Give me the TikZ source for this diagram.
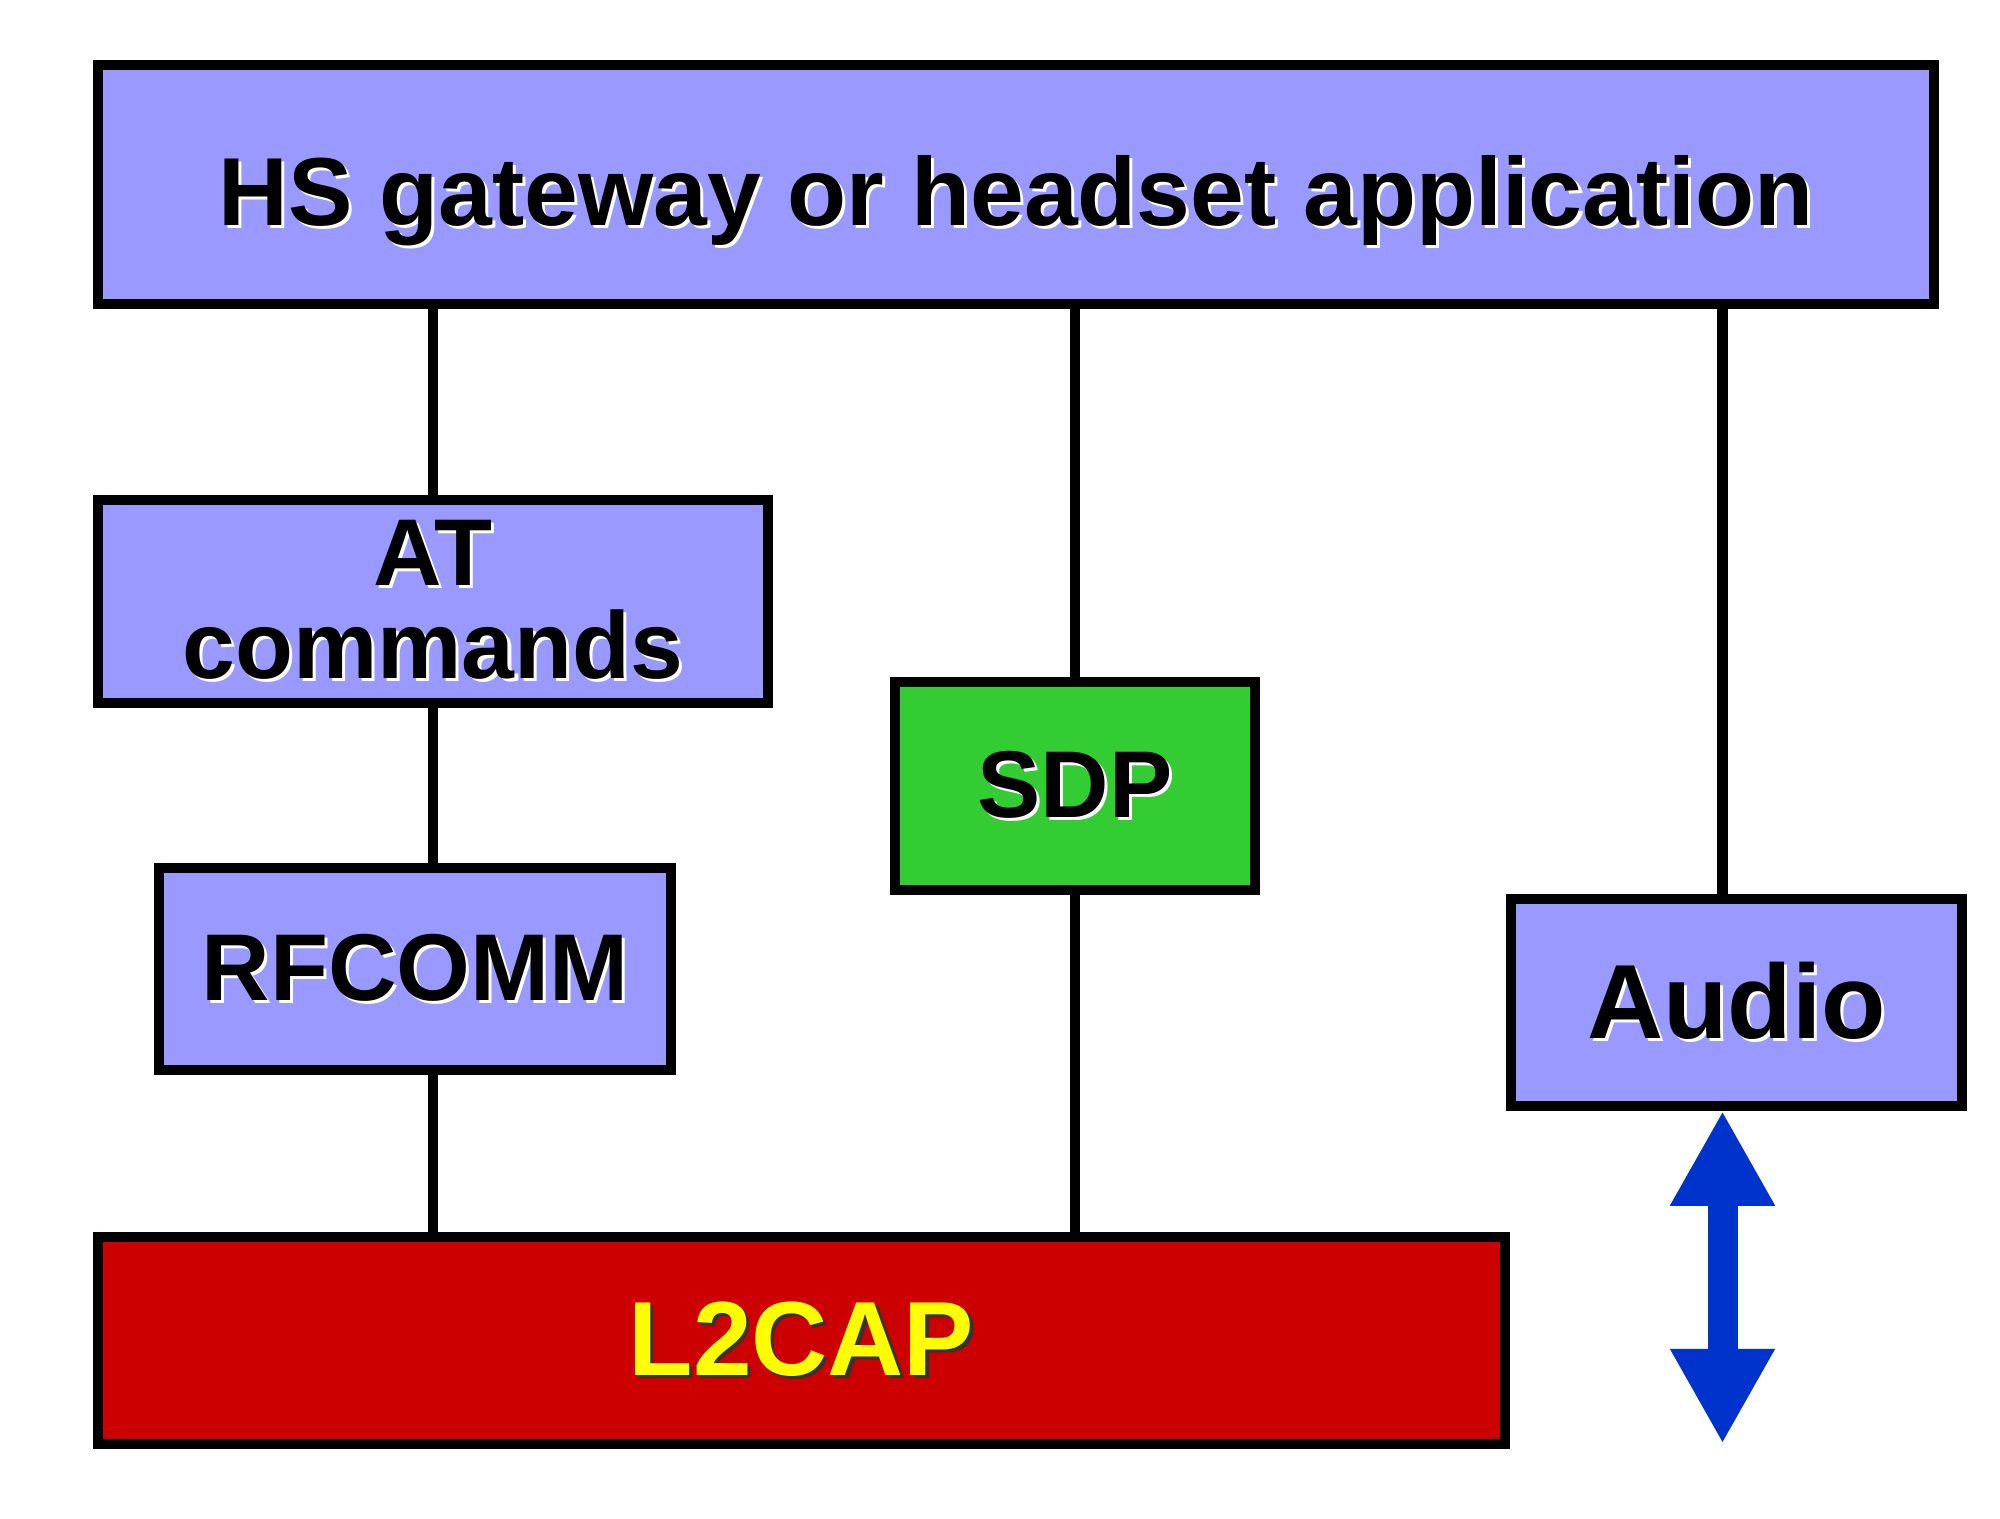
\documentclass[tikz,border=0pt]{standalone}
\usepackage{fontspec}
\setmainfont{Liberation Sans}
\usetikzlibrary{arrows.meta,positioning}
\definecolor{hsviolet}{RGB}{153,153,255}
\definecolor{hsgreen}{RGB}{51,204,51}
\definecolor{hsred}{RGB}{204,0,0}
\definecolor{hsyellow}{RGB}{255,255,0}
\definecolor{hsblue}{RGB}{0,51,204}
\newcommand{\emb}[2][white]{\rlap{\hspace{0.9pt}\raisebox{-0.9pt}{\color{#1}#2}}#2}

\begin{document}
\begin{tikzpicture}[
        layer/.style={rectangle,draw=black,line width=2.7pt,fill=hsviolet,inner sep=0pt,
          align=center,font=\bfseries\fontsize{27}{26.5}\selectfont},
        big/.style={font=\bfseries\fontsize{30}{30}\selectfont},
        link/.style={line width=3.1pt},
        dbl/.style={{Triangle[width=0.98cm,length=0.95cm]}-{Triangle[width=0.98cm,length=0.95cm]},
          draw=hsblue,line width=0.3cm}]
        \useasboundingbox (0,0) rectangle (20,-15.18);
        \node[layer,minimum width=18.36cm,minimum height=2.39cm,text height=0.81cm,text depth=0pt,
          font=\bfseries\fontsize{27.5}{30}\selectfont]
          (app) at (10.16,-1.845) {\emb{HS gateway or headset application}};
        \node[layer,minimum width=6.70cm,minimum height=2.03cm] (at) at (4.33,-6.015) {\emb{AT}\\\emb{commands}};
        \node[layer,minimum width=5.12cm,minimum height=2.02cm] (rfcomm) at (4.15,-9.69) {\emb{RFCOMM}};
        \node[layer,fill=hsgreen,minimum width=3.60cm,minimum height=2.08cm] (sdp) at (10.75,-7.86) {\emb{SDP}};
        \node[layer,big,minimum width=4.51cm,minimum height=2.07cm] (audio) at (17.365,-10.025) {\emb{Audio}};
        \node[layer,big,fill=hsred,text=hsyellow,minimum width=14.07cm,minimum height=2.07cm]
          (l2cap) at (8.015,-13.405) {\emb[black!80]{L2CAP}};
        \draw[link] (at.north) -- (at.north |- app.south);
        \draw[link] (at.south) -- (at.south |- rfcomm.north);
        \draw[link] (at.south |- rfcomm.south) -- (at.south |- l2cap.north);
        \draw[link] (sdp.north) -- (sdp.north |- app.south);
        \draw[link] (sdp.south) -- (sdp.south |- l2cap.north);
        \draw[link] ([xshift=-0.14cm]audio.north) -- ([xshift=-0.14cm]audio.north |- app.south);
        \draw[dbl] ([xshift=-0.14cm]audio.south) -- ([xshift=-0.14cm,yshift=0.05cm]audio.south |- l2cap.south);
      \end{tikzpicture}
\end{document}
